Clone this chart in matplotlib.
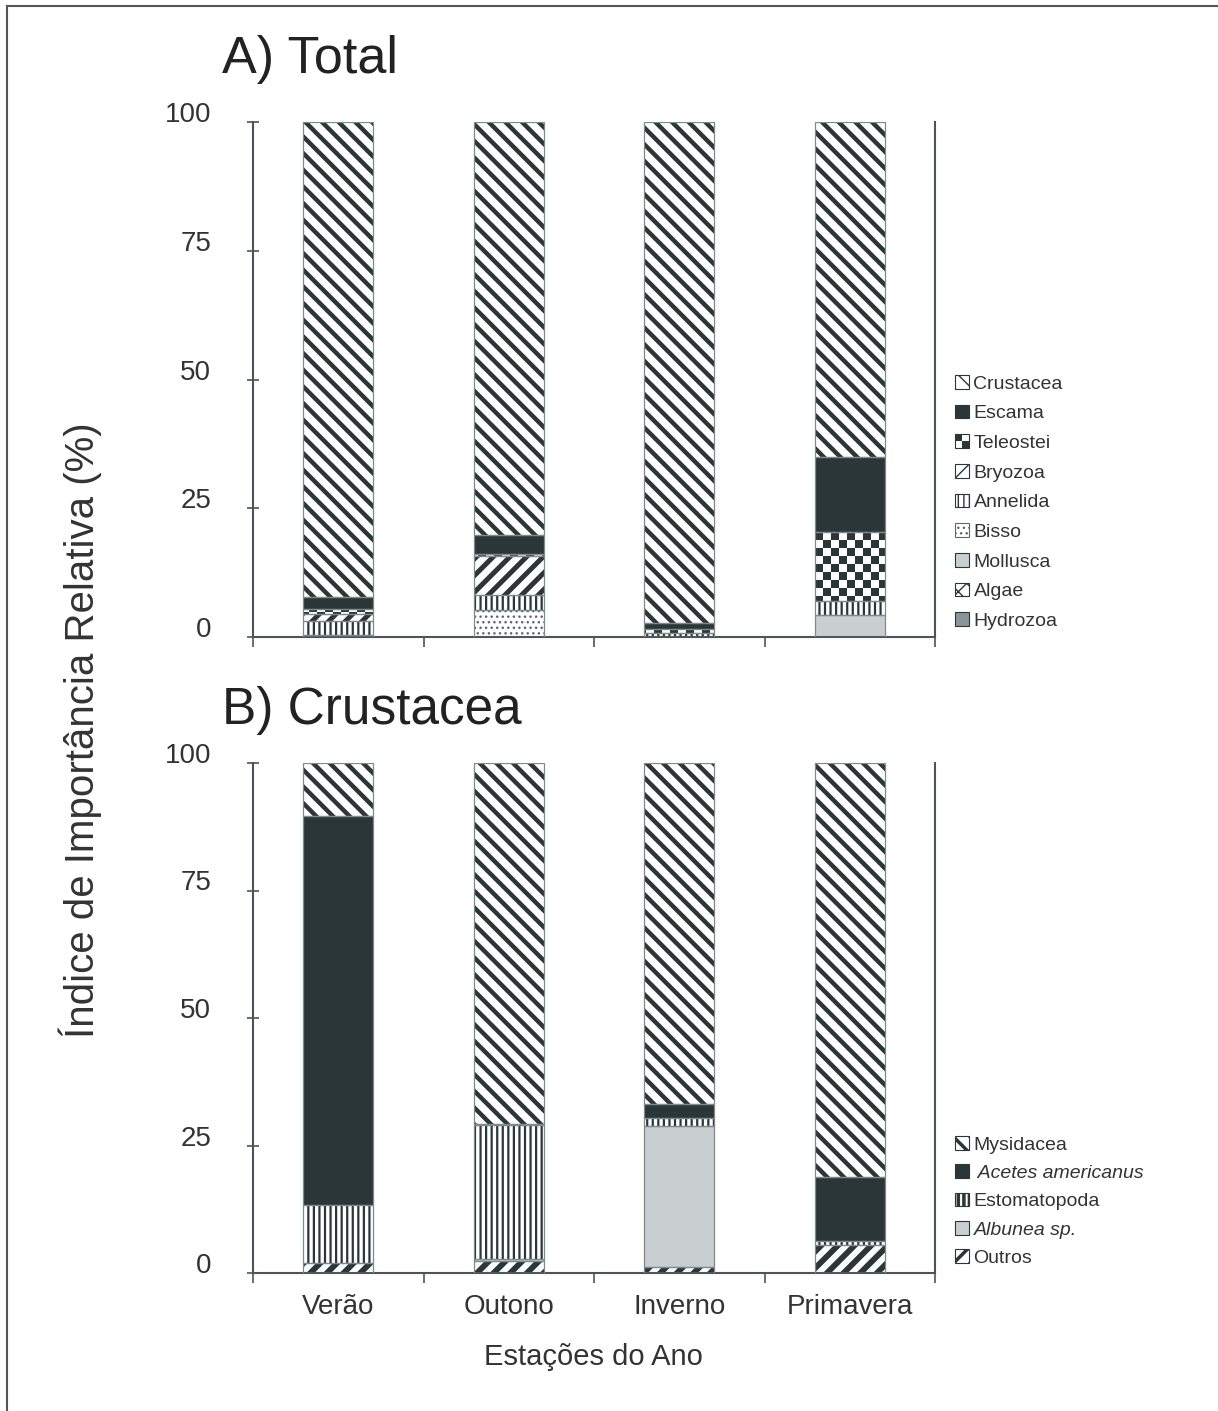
import matplotlib
matplotlib.use('Agg')
import matplotlib.pyplot as plt
import matplotlib.transforms as mtransforms
from matplotlib.patches import Rectangle, Patch
from matplotlib.lines import Line2D
import numpy as np

plt.rcParams['font.family'] = ['Liberation Sans', 'DejaVu Sans']

estacoes = ['Verão', 'Outono', 'Inverno', 'Primavera']

# A) Total  (stack order bottom -> top)
hydrozoa = [0, 0, 0, 0]
algae = [0, 0, 0, 0]
mollusca = [0, 0, 0, 4.3]
bisso = [0.3, 5.2, 0, 0]
annelida = [2.8, 3.0, 0.7, 2.6]
bryozoa = [1.3, 7.6, 0, 0]
teleostei = [1.0, 0.3, 0.9, 13.5]
escama = [2.4, 3.7, 1.1, 14.6]
crustacea = [92.2, 80.2, 97.3, 65.0]

# B) Crustacea
outros = [2.0, 2.3, 1.2, 5.4]
albunea = [0, 0.4, 27.7, 0]
estomatopoda = [11.3, 26.3, 1.5, 0.9]
acetes = [76.3, 0.3, 2.8, 12.6]
mysidacea = [10.4, 70.7, 66.8, 81.1]

yticks = [0, 25, 50, 75, 100]

DARK = '#2b3639'
GREY = '#c9ced1'
MID = '#8a9599'
OUT = '#7f8a8e'

# name, values, facecolor, hatch, hatch color, hatch lw
total_series = [
    ('Hydrozoa', hydrozoa, MID, None, DARK, 1),
    ('Algae', algae, 'white', 'xx', DARK, 1),
    ('Mollusca', mollusca, GREY, None, DARK, 1),
    ('Bisso', bisso, 'white', '...', '#5d686c', 1),
    ('Annelida', annelida, 'white', '|||', DARK, 1.6),
    ('Bryozoa', bryozoa, 'white', '//', DARK, 3.6),
    ('Teleostei', teleostei, 'white', 'checker', DARK, 1),
    ('Escama', escama, DARK, None, DARK, 1),
    ('Crustacea', crustacea, 'white', '\\\\', DARK, 3.2),
]
crust_series = [
    ('Outros', outros, 'white', '//', DARK, 4.2),
    ('Albunea sp.', albunea, GREY, None, DARK, 1),
    ('Estomatopoda', estomatopoda, 'white', '|||', DARK, 1.6),
    (' Acetes americanus', acetes, DARK, None, DARK, 1),
    ('Mysidacea', mysidacea, 'white', '\\\\', DARK, 3.2),
]

fig = plt.figure(figsize=(12.18, 14.11), dpi=100)
W, H = 1218, 1411

def checker_img():
    nx, ny = 85, 64
    return (np.add.outer(np.arange(ny), np.arange(nx)) % 2).astype(float)

def draw_stack(ax, series):
    x = np.arange(len(estacoes))
    bottom = np.zeros(len(estacoes))
    wid = 0.41
    for name, vals, fc, hatch, hc, hlw in series:
        vals = np.array(vals, dtype=float)
        for i in range(len(x)):
            if vals[i] <= 0:
                continue
            plt.rcParams['hatch.linewidth'] = hlw
            if hatch == 'checker':
                b = ax.bar(x[i], vals[i], wid, bottom=bottom[i], color='white',
                           linewidth=0)
                im = ax.imshow(checker_img(), extent=(-0.5, 3.5, 0, 100),
                               aspect='auto', interpolation='nearest',
                               cmap=matplotlib.colors.ListedColormap(['white', DARK]),
                               zorder=2.5)
                im.set_clip_path(b[0])
            else:
                b = ax.bar(x[i], vals[i], wid, bottom=bottom[i], color=fc,
                           edgecolor=hc, hatch=hatch, linewidth=0)
                if hatch and hasattr(b[0], 'set_hatch_linewidth'):
                    b[0].set_hatch_linewidth(hlw)
            ax.bar(x[i], vals[i], wid, bottom=bottom[i], fill=False,
                   edgecolor=OUT, linewidth=0.9, zorder=3)
        bottom = bottom + vals

def style_axes(ax, show_labels):
    ax.set_xlim(-0.5, 3.5)
    ax.set_ylim(0, 100)
    ax.spines['top'].set_visible(False)
    for s in ['left', 'bottom', 'right']:
        ax.spines[s].set_color('#4a5558')
        ax.spines[s].set_linewidth(1.5)
    ax.set_yticks(yticks)
    ax.tick_params(axis='y', direction='inout', length=8, width=1.2,
                   color='#4a5558', labelsize=20, labelcolor='#333333', pad=26)
    ax.set_xticks(np.arange(len(estacoes)))
    ax.set_xticks([-0.5, 0.5, 1.5, 2.5, 3.5], minor=True)
    ax.tick_params(axis='x', which='major', length=0, labelsize=20,
                   labelcolor='#333333', pad=15)
    ax.tick_params(axis='x', which='minor', direction='out', length=7,
                   width=1.2, color='#4a5558')
    if show_labels:
        ax.set_xticklabels(estacoes)
    else:
        ax.set_xticklabels([])
    off = mtransforms.ScaledTranslation(0, 10 / 100, fig.dpi_scale_trans)
    for lab in ax.get_yticklabels():
        lab.set_transform(lab.get_transform() + off)

class HandlerChecker:
    def legend_artist(self, legend, orig_handle, fontsize, handlebox):
        x0, y0 = handlebox.xdescent, handlebox.ydescent
        w, h = handlebox.width, handlebox.height
        tr = handlebox.get_transform()
        handlebox.add_artist(Rectangle((x0, y0), w, h, facecolor='white',
                                       edgecolor=DARK, lw=0.8, transform=tr))
        handlebox.add_artist(Rectangle((x0, y0 + h / 2), w / 2, h / 2,
                                       facecolor=DARK, lw=0, transform=tr))
        p = Rectangle((x0 + w / 2, y0), w / 2, h / 2, facecolor=DARK, lw=0,
                      transform=tr)
        handlebox.add_artist(p)
        return p

def add_legend(ax, series, top_px, spacing, italic=()):
    handles = []
    labels = []
    hmap = {}
    for name, vals, fc, hatch, hc, hlw in reversed(series):
        plt.rcParams['hatch.linewidth'] = max(1.0, hlw * 0.6)
        if hatch == 'checker':
            h = Patch(facecolor='white', edgecolor=DARK)
            hmap[h] = HandlerChecker()
        else:
            h = Patch(facecolor=fc, edgecolor=hc, hatch=hatch, linewidth=0.8)
        handles.append(h)
        labels.append(name)
    leg = ax.legend(handles, labels, loc='upper left',
                    bbox_to_anchor=(955 / W, 1 - top_px / H),
                    bbox_transform=fig.transFigure, frameon=False,
                    fontsize=14, handlelength=0.7, handleheight=0.7,
                    handletextpad=0.25, labelspacing=spacing, borderpad=0,
                    borderaxespad=0, handler_map=hmap)
    for t in leg.get_texts():
        t.set_color('#333333')
        if t.get_text() in italic:
            t.set_style('italic')

ax1 = fig.add_axes([253 / W, 1 - 637 / H, 682 / W, 515 / H])
draw_stack(ax1, total_series)
style_axes(ax1, False)
add_legend(ax1, total_series, 375, 0.62)

ax2 = fig.add_axes([253 / W, 1 - 1273 / H, 682 / W, 510 / H])
draw_stack(ax2, crust_series)
style_axes(ax2, True)
add_legend(ax2, crust_series, 1136, 0.55, italic=(' Acetes americanus', 'Albunea sp.'))

fig.text(222 / W, 1 - 60 / H, 'A) Total', fontsize=37.5, va='center', color='#222222')
fig.text(222 / W, 1 - 710 / H, 'B) Crustacea', fontsize=37, va='center', color='#222222')
fig.text(80 / W, 1 - 730 / H, 'Índice de Importância Relativa (%)', fontsize=29,
         rotation=90, ha='center', va='center', color='#333333')
fig.text(593 / W, 1 - 1357 / H, 'Estações do Ano', fontsize=21, ha='center',
         va='center', color='#333333')

# moldura (topo e esquerda)
fig.add_artist(Line2D([7 / W, 1], [1 - 6 / H, 1 - 6 / H], color='#555555',
                      lw=1.5, transform=fig.transFigure))
fig.add_artist(Line2D([7 / W, 7 / W], [0, 1 - 6 / H], color='#555555',
                      lw=1.5, transform=fig.transFigure))

fig.savefig('out.png', dpi=100, facecolor='white')
